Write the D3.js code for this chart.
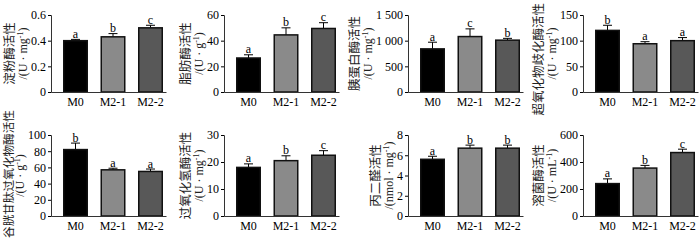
<!DOCTYPE html>
<head>
    <meta charset="utf-8">
    <style>
        body { margin: 0; background: #fff; }
        .tick text, .num { font-family: "Liberation Serif", "Times New Roman", serif; font-size: 12px; fill: #000; }
        .cn { font-family: "Noto Sans CJK SC", sans-serif; font-size: 12.5px; fill: #222; }
        .unit { font-family: "Liberation Serif", serif; font-size: 12px; fill: #222; }
    </style>
    <script src="https://cdnjs.cloudflare.com/ajax/libs/d3/7.8.5/d3.min.js"></script>
</head>
<body>
<div id="chart"></div>
<script>

    // groups and colours
    var groups = ["M0", "M2-1", "M2-2"];
    var barColors = ["#000000", "#8a8a8a", "#585858"];

    // one entry per panel, row by row
    var titles = ["淀粉酶活性", "脂肪酶活性", "胰蛋白酶活性", "超氧化物歧化酶活性",
                  "谷胱甘肽过氧化物酶活性", "过氧化氢酶活性", "丙二醛活性", "溶菌酶活性"];
    var unitPre = ["/(U · mg", "/(U · g", "/(U · mg", "/(U · mg",
                   "/(U · g", "/(U · mg", "/(nmol · mg", "/(U · mL"];
    var yMaxes = [0.6, 60, 1500, 150, 100, 30, 8, 600];
    var yTicks = [
        [0, 0.2, 0.4, 0.6],
        [0, 20, 40, 60],
        [0, 500, 1000, 1500],
        [0, 50, 100, 150],
        [0, 20, 40, 60, 80, 100],
        [0, 10, 20, 30],
        [0, 2, 4, 6, 8],
        [0, 200, 400, 600]
    ];
    var means = [
        [0.40, 0.43, 0.50],
        [26.5, 44.5, 49.5],
        [840, 1080, 1010],
        [120, 94, 100],
        [82, 57, 55],
        [18, 20.5, 22.5],
        [5.6, 6.7, 6.7],
        [240, 355, 470]
    ];
    var errs = [
        [0.01, 0.025, 0.02],
        [2.5, 5.5, 4.5],
        [130, 150, 35],
        [10, 4, 6],
        [8, 2, 3],
        [1.3, 1.8, 1.7],
        [0.3, 0.3, 0.3],
        [35, 20, 25]
    ];
    var letters = [
        ["a", "b", "c"],
        ["a", "b", "c"],
        ["a", "c", "b"],
        ["b", "a", "a"],
        ["b", "a", "a"],
        ["a", "b", "c"],
        ["a", "b", "b"],
        ["a", "b", "c"]
    ];

    var W = 700, H = 241;
    var colX = [51, 224, 408, 583];
    var rowY = [[15, 92], [135, 216]];
    var plotW = 115;

    var svg = d3.select("#chart").append("svg")
        .attr("width", W)
        .attr("height", H);

    var fmt = function(d) {
        if (d >= 1000) return d3.format(",")(d).replace(",", " ");
        return d3.format("")(d);
    };

    titles.forEach(function(t, i) {
        var col = i % 4, row = Math.floor(i / 4);
        var top = rowY[row][0], bottom = rowY[row][1];

        var g = svg.append("g")
            .attr("transform", "translate(" + colX[col] + ",0)");

        var x = d3.scaleBand().domain(groups)
            .range([0, plotW])
            .paddingInner(1 / 3)
            .paddingOuter(0.2)
            .align(0.8);
        var y = d3.scaleLinear().domain([0, yMaxes[i]]).range([bottom, top]);

        var rows = groups.map(function(gr, j) {
            return { g: gr, v: means[i][j], e: errs[i][j], l: letters[i][j], c: barColors[j] };
        });

        var cx = d => x(d.g) + x.bandwidth() / 2;

        // error bars (upward only)
        g.selectAll(".eb").data(rows).enter().append("line")
            .attr("x1", cx).attr("x2", cx)
            .attr("y1", d => y(d.v))
            .attr("y2", d => y(d.v + d.e))
            .attr("stroke", "#000").attr("stroke-width", 1);
        g.selectAll(".cap").data(rows).enter().append("line")
            .attr("x1", d => cx(d) - 4.5)
            .attr("x2", d => cx(d) + 4.5)
            .attr("y1", d => y(d.v + d.e))
            .attr("y2", d => y(d.v + d.e))
            .attr("stroke", "#000").attr("stroke-width", 1);

        g.selectAll("rect").data(rows).enter().append("rect")
            .attr("x", d => x(d.g) + 0.75)
            .attr("y", d => y(d.v))
            .attr("width", x.bandwidth() - 1.5)
            .attr("height", d => bottom - y(d.v))
            .attr("fill", d => d.c)
            .attr("stroke", "#111")
            .attr("stroke-width", 1.5);

        g.selectAll(".lt").data(rows).enter().append("text")
            .attr("class", "num")
            .attr("x", cx)
            .attr("y", d => y(d.v + d.e) - 1.5)
            .attr("text-anchor", "middle")
            .text(d => d.l);

        var yAx = g.append("g")
            .call(d3.axisLeft(y).tickValues(yTicks[i]).tickSize(3).tickPadding(2).tickFormat(fmt));
        yAx.select(".domain").attr("stroke", "#333");

        g.append("g")
            .attr("transform", "translate(0," + bottom + ")")
            .call(d3.axisBottom(x).tickSize(0).tickPadding(5))
            .select(".domain").attr("stroke", "#333");

        // axis title, two lines
        var tw = 0;
        yAx.selectAll(".tick text").each(function() {
            tw = Math.max(tw, this.getBBox().width);
        });
        var cy = (top + bottom) / 2;

        var cn = g.append("text")
            .attr("class", "cn")
            .attr("text-anchor", "middle")
            .attr("dy", "0.35em")
            .text(t);
        // keep long titles inside the picture
        var len = cn.node().getComputedTextLength();
        if (len > 128) {
            cn.style("font-size", (12.5 * 128 / len) + "px");
            len = 128;
        }
        var half = len / 2;
        var ccy = Math.max(half + 3, Math.min(H - half - 3, cy));
        var ccx = Math.max(-(tw + 26), 9 - colX[col]);
        cn.attr("transform", "translate(" + ccx + "," + ccy + ") rotate(-90)");

        var u = g.append("text")
            .attr("class", "unit")
            .attr("transform", "translate(" + (-(tw + 13)) + "," + cy + ") rotate(-90)")
            .attr("text-anchor", "middle")
            .attr("dy", "0.35em");
        u.append("tspan").text(unitPre[i]);
        u.append("tspan").attr("dy", -4).attr("font-size", 8).text("-1");
        u.append("tspan").attr("dy", 4).text(")");
    });

</script>
</body>
